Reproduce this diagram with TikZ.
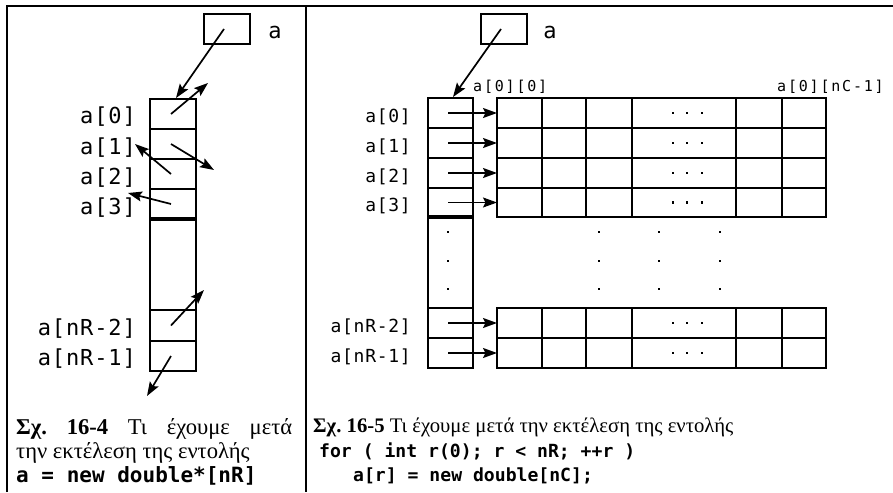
\documentclass[tikz,border=0pt]{standalone}
\usepackage{fontspec}
\setmainfont{Liberation Serif}
\newfontfamily\lblfont[LetterSpace=4]{DejaVu Sans Mono}
\newfontfamily\smallfont[LetterSpace=12]{DejaVu Sans Mono}
\newfontfamily\codefont{DejaVu Sans Mono}
\usetikzlibrary{arrows.meta,calc}
\frenchspacing

\tikzset{
  frameline/.style={line width=2.4pt},
  cell/.style={draw, line width=2pt, inner sep=0pt, outer sep=0pt,
    minimum width=46pt, minimum height=30pt},
  rcell/.style={cell, minimum width=45pt},
  gridrow/.style={cell, minimum width=329pt},
  sepline/.style={line width=3.6pt},
  ptr/.style={line width=1.7pt, -{Stealth[length=14pt,width=10pt,inset=2.5pt]}},
  biglbl/.style={font=\fontsize{22}{26}\selectfont\lblfont, anchor=base east, inner sep=0pt},
  midlbl/.style={font=\fontsize{18}{22}\selectfont\lblfont, anchor=base east, inner sep=0pt},
  smalllbl/.style={font=\fontsize{15}{18}\selectfont\smallfont, anchor=base west, inner sep=0pt},
  varname/.style={font=\fontsize{22}{26}\selectfont\lblfont, anchor=base, inner sep=0pt},
  leftcap/.style={font=\fontsize{22.6}{26}\selectfont, anchor=base west, inner sep=0pt},
  rightcap/.style={font=\fontsize{20.7}{24}\selectfont, anchor=base west, inner sep=0pt},
  leftcode/.style={font=\fontsize{21}{25}\selectfont\codefont\bfseries, anchor=base west, inner sep=0pt},
  rightcode/.style={font=\fontsize{18.1}{22}\selectfont\codefont\bfseries, anchor=base west, inner sep=0pt},
  dot/.style={fill=black}
}

\begin{document}
\begin{tikzpicture}[x=1pt, y=-1pt]
\useasboundingbox (0,0) rectangle (893,492);

% table rules
\draw[frameline] (7,492) -- (7,6) -- (893,6);
\draw[frameline] (306,6) -- (306,492);

% ---------- left panel: array of pointers ----------
\node[cell] (pA) at (227,29) {};
\node[varname] (nameA) at (275,39) {a};

\node[cell] (L0) at (173,114) {};
\node[cell] (L1) at (173,144) {};
\node[cell] (L2) at (173,174) {};
\node[cell] (L3) at (173,204) {};
\node[cell, minimum height=91pt] (Lgap) at (173,264.5) {};
\node[cell, minimum height=31pt] (Lm2) at (173,325.5) {};
\node[cell] (Lm1) at (173,356) {};
\draw[sepline] (Lgap.north west) -- (Lgap.north east);

\node[biglbl] (lL0) at (136,124) {a[0]};
\node[biglbl] (lL1) at (136,154) {a[1]};
\node[biglbl] (lL2) at (136,184) {a[2]};
\node[biglbl] (lL3) at (136,214) {a[3]};
\node[biglbl] (lLm2) at (136,335) {a[nR-2]};
\node[biglbl] (lLm1) at (136,365.5) {a[nR-1]};

\coordinate (eA)  at (176,98);
\coordinate (e0)  at (208,83);
\coordinate (e1)  at (214,170);
\coordinate (e2)  at (135,144);
\coordinate (e3)  at (128,193);
\coordinate (em2) at (204,290);
\coordinate (em1) at (147,396);

\draw[ptr] ([xshift=-3pt]pA.center) -- (eA);
\draw[ptr] ([xshift=-2pt]L0.center) -- (e0);
\draw[ptr] ([xshift=-2pt]L1.center) -- (e1);
\draw[ptr] ([xshift=-2pt]L2.center) -- (e2);
\draw[ptr] ([xshift=-2pt]L3.center) -- (e3);
\draw[ptr] ([xshift=-2pt]Lm2.center) -- (em2);
\draw[ptr] ([xshift=-2pt]Lm1.center) -- (em1);

% ---------- right panel: rows allocated ----------
\node[cell] (pB) at (504,29) {};
\node[varname] (nameB) at (550,39) {a};

\node[rcell] (R0) at (450.5,113) {};
\node[rcell] (R1) at (450.5,143) {};
\node[rcell] (R2) at (450.5,173) {};
\node[rcell, minimum height=29pt] (R3) at (450.5,202.5) {};
\node[rcell, minimum height=91pt] (Rgap) at (450.5,262.5) {};
\node[rcell] (Rm2) at (450.5,323) {};
\node[rcell] (Rm1) at (450.5,353) {};
\draw[sepline] (Rgap.north west) -- (Rgap.north east);

\node[gridrow] (G0) at (661.5,113) {};
\node[gridrow] (G1) at (661.5,143) {};
\node[gridrow] (G2) at (661.5,173) {};
\node[gridrow, minimum height=29pt] (G3) at (661.5,202.5) {};
\node[gridrow] (Gm2) at (661.5,323) {};
\node[gridrow] (Gm1) at (661.5,353) {};

\foreach \g in {G0,G1,G2,G3,Gm2,Gm1}{
  \foreach \xx in {542,586,632,736,782}{
    \draw[line width=2pt] (\g.north west -| \xx,0) -- (\g.south west -| \xx,0);
  }
  \foreach \xx in {673,687,702}{
    \fill[dot] ($(\g.center -| \xx,0) + (-1.4,-1.4)$) rectangle ++(2.8,2.8);
  }
}

\foreach \yy in {232,261,289}{
  \foreach \xx in {448,599,659,720}{
    \fill[dot] (\xx-1.4,\yy-1.4) rectangle ++(2.8,2.8);
  }
}

\node[midlbl] (lR0) at (411,122) {a[0]};
\node[midlbl] (lR1) at (411,152) {a[1]};
\node[midlbl] (lR2) at (411,182) {a[2]};
\node[midlbl] (lR3) at (411,211.5) {a[3]};
\node[midlbl] (lRm2) at (411,332) {a[nR-2]};
\node[midlbl] (lRm1) at (411,362) {a[nR-1]};

\node[smalllbl] (first) at (473,92) {a[0][0]};
\node[smalllbl] (last) at (777,92) {a[0][nC-1]};

\coordinate (eB) at (453,97);
\draw[ptr] ([xshift=-3pt]pB.center) -- (eB);
\foreach \r/\g in {R0/G0,R1/G1,R2/G2,R3/G3,Rm2/Gm2,Rm1/Gm1}{
  \draw[ptr] ([xshift=-2.5pt]\r.center) -- (\g.west);
}

% ---------- captions ----------
\node[leftcap] (capL1) at (16,434) {\makebox[276pt][s]{\textbf{Σχ. 16-4} Τι έχουμε μετά}};
\node[leftcap] (capL2) at (16,458) {την εκτέλεση της εντολής};
\node[leftcode] (codeL) at (16,482) {a = new double*[nR]};

\node[rightcap] (capR1) at (313,432) {\textbf{Σχ. 16-5} Τι έχουμε μετά την εκτέλεση της εντολής};
\node[rightcode] (codeR1) at (319,457) {for ( int r(0); r < nR; ++r )};
\node[rightcode] (codeR2) at (353,481) {a[r] = new double[nC];};
\end{tikzpicture}
\end{document}
